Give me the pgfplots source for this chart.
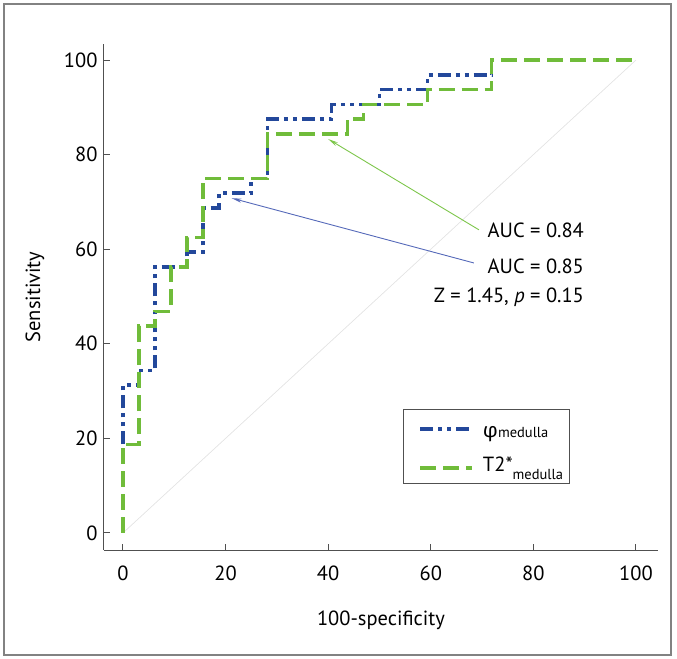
\documentclass[border=0pt]{standalone}
\usepackage{fontspec}
\setmainfont{PT Sans}
\newfontfamily\greekfont{Fira Sans}
\usepackage{pgfplots}
\pgfplotsset{compat=1.18}
\usetikzlibrary{arrows.meta}
\definecolor{cblue}{RGB}{35,72,155}
\definecolor{cgreen}{RGB}{112,188,58}
\definecolor{ablue}{RGB}{85,105,185}
\definecolor{agreen}{RGB}{125,198,75}
\definecolor{axgray}{RGB}{80,80,80}
\definecolor{framegray}{RGB}{130,130,130}
\newcommand\bigf{\fontsize{20.5bp}{24bp}\selectfont}
\newcommand\subf{\fontsize{14.5bp}{16bp}\selectfont}
\begin{document}
\begin{tikzpicture}
\begin{axis}[
  scale only axis, width=554bp, height=506bp,
  xmin=-3.7, xmax=104.3, ymin=-3.6, ymax=103.4,
  axis lines=left,
  axis line style={-, draw=axgray, line width=1bp},
  tick align=inside,
  xtick={0,20,...,100}, ytick={0,20,...,100},
  tick style={draw=axgray, line width=1bp},
  major tick length=6bp,
  tick label style={font=\bigf},
  /pgf/number format/assume math mode=true,
  xticklabel style={yshift=-12bp},
  yticklabel style={xshift=-3bp},
  xlabel={100-specificity}, ylabel={Sensitivity},
  label style={font=\bigf},
  x label style={at={(axis description cs:0.5,-0.138)}, anchor=center},
  y label style={at={(axis description cs:-0.1245,0.5)}, anchor=center},
  legend style={at={(axis cs:54.6,26.2)}, anchor=north west, draw=axgray, line width=0.8bp,
    font=\bigf, inner xsep=6bp, inner ysep=10bp, row sep=24bp, column sep=9bp,
    nodes={inner sep=0pt}, cells={anchor=west}},
  legend image code/.code={\path (0bp,0bp); \draw[#1] (9bp,0bp) -- (61bp,0bp);},
  clip=false,
]
\addplot[draw=gray!22, line width=0.7bp, forget plot] coordinates {(0,0) (100,100)};

\addplot[draw=cblue, line width=3.5bp, dash pattern=on 13bp off 5bp on 4bp off 5bp on 4bp off 5bp] coordinates {
(0,18.75) (0,31.25) (3.125,31.25) (3.125,34.375) (6.25,34.375) (6.25,56.25) (12.5,56.25)
(12.5,59.375) (15.625,59.375) (15.625,68.75) (18.75,68.75) (18.75,71.875) (25,71.875)
(25,75) (28.125,75) (28.125,87.5) (40.625,87.5) (40.625,90.625) (50,90.625) (50,93.75)
(59.375,93.75) (59.375,96.875) (71.875,96.875) (71.875,100)};
\addlegendentry{\raisebox{0bp}[18bp][0bp]{{\greekfont φ}{\subf medulla}}}

\addplot[draw=cgreen, line width=3.5bp, dash pattern=on 16bp off 7bp] coordinates {
(0,0) (0,18.75) (3.125,18.75) (3.125,43.75) (6.25,43.75) (6.25,46.875) (9.375,46.875)
(9.375,56.25) (12.5,56.25) (12.5,62.5) (15.625,62.5) (15.625,75) (28.125,75) (28.125,84.375)
(43.75,84.375) (43.75,87.5) (46.875,87.5) (46.875,90.625) (59.375,90.625) (59.375,93.75)
(71.875,93.75) (71.875,100) (100,100)};
\addlegendentry{\raisebox{0bp}[9bp][9bp]{T2*\raisebox{-8bp}{\subf medulla}}}

\draw[agreen, line width=0.9bp, -{Stealth[length=10bp,width=4bp]}] (axis cs:69.4,64.1) -- (axis cs:40,83.3);
\draw[ablue, line width=0.9bp, -{Stealth[length=10bp,width=4bp]}] (axis cs:68.4,57.1) -- (axis cs:21.2,70.8);
\node[anchor=base east, font=\bigf, inner sep=0pt] at (axis cs:89.9,62.4) {AUC = 0.84};
\node[anchor=base east, font=\bigf, inner sep=0pt] at (axis cs:89.9,54.8) {AUC = 0.85};
\node[anchor=base east, font=\bigf, inner sep=0pt] at (axis cs:89.9,48.8) {Z = 1.45, \textit{p} = 0.15};
\end{axis}
\draw[framegray, line width=1.2bp] ([shift={(-100bp,-105bp)}]current axis.south west) rectangle ([shift={(567bp,546bp)}]current axis.south west);
\pgfresetboundingbox
\path ([shift={(-104bp,-109bp)}]current axis.south west) rectangle ([shift={(573bp,550bp)}]current axis.south west);
\end{tikzpicture}
\end{document}
